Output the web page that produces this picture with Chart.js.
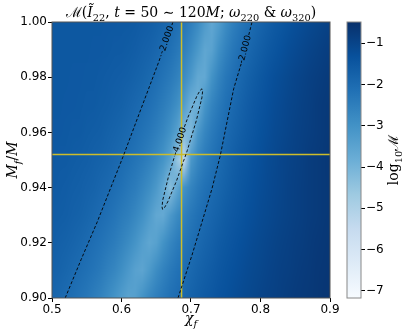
<!DOCTYPE html>
<html>
<head>
<meta charset="utf-8">
<script src="https://cdn.jsdelivr.net/npm/chart.js@4.4.1/dist/chart.umd.min.js"></script>
<style>
    html, body { margin: 0; padding: 0; background: #fff; }
    #wrap { position: relative; width: 403px; height: 334px; }
    #mainChart { position: absolute; left: 0; top: 0; }
    #barChart { position: absolute; left: 330px; top: 0; }
</style>
</head>
<body>
<div id="wrap">
    <canvas id="mainChart" width="403" height="334"></canvas>
    <canvas id="barChart" width="73" height="334"></canvas>
</div>
<script>
// ================= DATA =================
const chiGrid = [0.50, 0.51, 0.52, 0.53, 0.54, 0.55, 0.56, 0.57, 0.58, 0.59, 0.60, 0.61, 0.62, 0.63,
    0.64, 0.65, 0.66, 0.67, 0.68, 0.69, 0.70, 0.71, 0.72, 0.73, 0.74, 0.75, 0.76, 0.77, 0.78, 0.79,
    0.80, 0.81, 0.82, 0.83, 0.84, 0.85, 0.86, 0.87, 0.88, 0.89, 0.90];
const massGrid = [0.90, 0.91, 0.92, 0.93, 0.94, 0.95, 0.96, 0.97, 0.98, 0.99, 1.00];

// log10 mismatch, one row per massGrid value (bottom to top), one column per chiGrid value
const logMismatch = [
    [-1.85, -1.92, -2.01, -2.1, -2.2, -2.32, -2.46, -2.62, -2.81, -3.04, -3.29, -3.49, -3.38, -3.02, -2.72, -2.49, -2.3, -2.14, -2.01, -1.89, -1.77, -1.66, -1.57, -1.48, -1.39, -1.32, -1.24, -1.17, -1.11, -1.06, -1.0, -0.95, -0.91, -0.87, -0.82, -0.78, -0.75, -0.71, -0.68, -0.65, -0.62],
    [-1.75, -1.8, -1.87, -1.95, -2.04, -2.14, -2.24, -2.37, -2.53, -2.7, -2.92, -3.18, -3.45, -3.54, -3.22, -2.86, -2.59, -2.37, -2.19, -2.05, -1.92, -1.8, -1.69, -1.58, -1.49, -1.4, -1.32, -1.25, -1.17, -1.11, -1.06, -1.0, -0.95, -0.9, -0.86, -0.82, -0.78, -0.74, -0.7, -0.67, -0.64],
    [-1.67, -1.71, -1.76, -1.83, -1.9, -1.98, -2.08, -2.19, -2.3, -2.44, -2.61, -2.81, -3.06, -3.35, -3.58, -3.43, -3.02, -2.69, -2.44, -2.25, -2.1, -1.96, -1.83, -1.71, -1.59, -1.5, -1.41, -1.33, -1.25, -1.17, -1.11, -1.05, -0.99, -0.94, -0.9, -0.85, -0.81, -0.77, -0.73, -0.69, -0.66],
    [-1.61, -1.64, -1.67, -1.72, -1.77, -1.84, -1.92, -2.01, -2.11, -2.24, -2.38, -2.52, -2.71, -2.95, -3.26, -3.62, -3.69, -3.21, -2.82, -2.53, -2.31, -2.14, -1.99, -1.85, -1.73, -1.6, -1.51, -1.42, -1.33, -1.25, -1.17, -1.11, -1.05, -0.99, -0.94, -0.89, -0.84, -0.8, -0.76, -0.72, -0.68],
    [-1.57, -1.59, -1.62, -1.66, -1.7, -1.75, -1.8, -1.88, -1.96, -2.06, -2.17, -2.3, -2.45, -2.64, -2.86, -3.17, -3.63, -4.3, -3.62, -3.0, -2.63, -2.37, -2.16, -2.0, -1.86, -1.73, -1.6, -1.5, -1.4, -1.31, -1.22, -1.15, -1.08, -1.01, -0.95, -0.9, -0.85, -0.8, -0.76, -0.72, -0.68],
    [-1.53, -1.55, -1.57, -1.6, -1.63, -1.67, -1.71, -1.76, -1.83, -1.91, -2.0, -2.1, -2.23, -2.37, -2.54, -2.76, -3.04, -3.46, -4.5, -5.4, -3.17, -2.7, -2.4, -2.18, -2.0, -1.84, -1.7, -1.57, -1.47, -1.36, -1.27, -1.18, -1.11, -1.03, -0.97, -0.91, -0.86, -0.8, -0.76, -0.71, -0.67],
    [-1.52, -1.52, -1.53, -1.55, -1.57, -1.6, -1.63, -1.67, -1.73, -1.79, -1.86, -1.95, -2.05, -2.18, -2.32, -2.49, -2.7, -2.99, -3.4, -4.14, -4.14, -3.15, -2.69, -2.39, -2.16, -1.98, -1.82, -1.68, -1.56, -1.45, -1.34, -1.25, -1.16, -1.09, -1.01, -0.95, -0.9, -0.84, -0.79, -0.74, -0.7],
    [-1.5, -1.5, -1.51, -1.52, -1.53, -1.55, -1.57, -1.6, -1.64, -1.69, -1.74, -1.81, -1.91, -2.0, -2.12, -2.27, -2.43, -2.65, -2.91, -3.3, -3.9, -3.9, -3.08, -2.65, -2.35, -2.13, -1.95, -1.79, -1.65, -1.52, -1.41, -1.3, -1.2, -1.13, -1.05, -0.99, -0.92, -0.86, -0.8, -0.75, -0.71],
    [-1.5, -1.5, -1.5, -1.51, -1.52, -1.53, -1.53, -1.55, -1.58, -1.61, -1.65, -1.7, -1.76, -1.84, -1.94, -2.06, -2.2, -2.36, -2.56, -2.83, -3.18, -3.64, -3.65, -3.02, -2.61, -2.32, -2.11, -1.93, -1.77, -1.63, -1.5, -1.39, -1.28, -1.19, -1.11, -1.03, -0.96, -0.9, -0.84, -0.79, -0.74],
    [-1.5, -1.5, -1.5, -1.5, -1.5, -1.5, -1.51, -1.52, -1.53, -1.55, -1.57, -1.6, -1.65, -1.71, -1.78, -1.88, -2.0, -2.14, -2.31, -2.52, -2.8, -3.16, -3.59, -3.46, -2.95, -2.58, -2.32, -2.12, -1.95, -1.8, -1.66, -1.54, -1.43, -1.32, -1.23, -1.15, -1.07, -1.0, -0.94, -0.88, -0.83],
    [-1.5, -1.5, -1.5, -1.5, -1.5, -1.5, -1.5, -1.5, -1.51, -1.52, -1.53, -1.54, -1.57, -1.61, -1.66, -1.73, -1.82, -1.94, -2.09, -2.27, -2.49, -2.8, -3.21, -3.6, -3.3, -2.87, -2.55, -2.31, -2.13, -1.97, -1.82, -1.69, -1.57, -1.47, -1.37, -1.28, -1.2, -1.12, -1.06, -0.99, -0.93]
];

// contour lines [chi, Mf/M]; each split where the inline label sits
const contourLevels = [-2, -2, -4];
const leftContourLow = [[0.519, 0.900], [0.542, 0.914], [0.565, 0.9275], [0.584, 0.9396], [0.603, 0.9517],
    [0.621, 0.9638], [0.639, 0.9758], [0.6535, 0.9855], [0.657, 0.988]];
const leftContourTop = [[0.6725, 0.9989], [0.674, 1.000]];
const rightContourLow = [[0.6813, 0.900], [0.7014, 0.9155], [0.7158, 0.9275], [0.7302, 0.9396], [0.7422, 0.9517],
    [0.7518, 0.9638], [0.7614, 0.9758], [0.7721, 0.9848]];
const rightContourTop = [[0.7831, 0.9953], [0.7878, 1.000]];
const innerContour = [[0.6905, 0.9620], [0.6955, 0.9654], [0.7085, 0.9732], [0.7130, 0.9752], [0.7158, 0.9758],
    [0.7167, 0.9749], [0.7157, 0.9726], [0.7078, 0.9644], [0.6946, 0.9534], [0.6794, 0.9426], [0.6665, 0.9348],
    [0.6620, 0.9328], [0.6591, 0.9321], [0.6583, 0.9330], [0.6593, 0.9354], [0.6672, 0.9436], [0.6765, 0.9515]];

// injected remnant values
const chiRemnant = 0.6864;
const massRemnant = 0.9520;

const xTickValues = [0.5, 0.6, 0.7, 0.8, 0.9];
const yTickValues = [0.90, 0.92, 0.94, 0.96, 0.98, 1.00];
const cbTickValues = [-1, -2, -3, -4, -5, -6, -7];
const cbMin = -7.17;
const cbMax = -0.49;

// ================= COLOURS =================
const bluesStops = ['#f7fbff', '#deebf7', '#c6dbef', '#9ecae1', '#6baed6', '#4292c6', '#2171b5', '#08519c', '#08306b'];

function hexToRgb(h) {
    return [parseInt(h.slice(1, 3), 16), parseInt(h.slice(3, 5), 16), parseInt(h.slice(5, 7), 16)];
}

function blues(v) {
    let t = (v - cbMin) / (cbMax - cbMin);
    t = Math.max(0, Math.min(1, t));
    const p = t * (bluesStops.length - 1);
    const i = Math.min(bluesStops.length - 2, Math.floor(p));
    const f = p - i;
    const a = hexToRgb(bluesStops[i]);
    const b = hexToRgb(bluesStops[i + 1]);
    return [0, 1, 2].map(k => Math.round(a[k] + (b[k] - a[k]) * f));
}

// ================= TEXT HELPERS =================
function drawRich(ctx, parts, x, y, size, rotation) {
    const fontFor = p => (p.it ? 'italic ' : '') + (p.sub ? size * 0.7 : size) + 'px "DejaVu Serif"';
    let total = 0;
    parts.forEach(p => {
        ctx.font = fontFor(p);
        p.w = ctx.measureText(p.t).width;
        total += p.w;
    });
    ctx.save();
    ctx.translate(x, y);
    ctx.rotate(rotation);
    ctx.fillStyle = '#000';
    ctx.textAlign = 'left';
    ctx.textBaseline = 'alphabetic';
    let cx = -total / 2;
    parts.forEach(p => {
        ctx.font = fontFor(p);
        ctx.fillText(p.t, cx, p.sub ? size * 0.25 : 0);
        cx += p.w;
    });
    ctx.restore();
}

const titleParts = [
    { t: 'ℳ' }, { t: '(' }, { t: 'Ĩ', it: 1 }, { t: '22', sub: 1 }, { t: ', ' }, { t: 't', it: 1 },
    { t: ' = 50 ∼ 120' }, { t: 'M', it: 1 }, { t: '; ' }, { t: 'ω', it: 1 }, { t: '220', sub: 1 },
    { t: ' & ' }, { t: 'ω', it: 1 }, { t: '320', sub: 1 }, { t: ')' }
];
const xLabelParts = [{ t: 'χ', it: 1 }, { t: 'f', it: 1, sub: 1 }];
const yLabelParts = [{ t: 'M', it: 1 }, { t: 'f', it: 1, sub: 1 }, { t: '/' }, { t: 'M', it: 1 }];
const cbLabelParts = [{ t: 'log' }, { t: '10', sub: 1 }, { t: 'ℳ' }];

// ================= PLUGINS =================
const heatmapPlugin = {
    id: 'heatmap',
    beforeDatasetsDraw(chart) {
        const { ctx, chartArea, scales: { x, y } } = chart;
        const cols = chiGrid.length;
        const rows = massGrid.length;
        const off = document.createElement('canvas');
        off.width = cols;
        off.height = rows;
        const octx = off.getContext('2d');
        const img = octx.createImageData(cols, rows);
        for (let r = 0; r < rows; r++) {
            const row = logMismatch[rows - 1 - r];
            for (let c = 0; c < cols; c++) {
                const rgb = blues(row[c]);
                const k = (r * cols + c) * 4;
                img.data[k] = rgb[0];
                img.data[k + 1] = rgb[1];
                img.data[k + 2] = rgb[2];
                img.data[k + 3] = 255;
            }
        }
        octx.putImageData(img, 0, 0);

        const hx = (chiGrid[1] - chiGrid[0]) / 2;
        const hy = (massGrid[1] - massGrid[0]) / 2;
        const x0 = x.getPixelForValue(chiGrid[0] - hx);
        const x1 = x.getPixelForValue(chiGrid[cols - 1] + hx);
        const y0 = y.getPixelForValue(massGrid[rows - 1] + hy);
        const y1 = y.getPixelForValue(massGrid[0] - hy);

        ctx.save();
        ctx.beginPath();
        ctx.rect(chartArea.left, chartArea.top, chartArea.right - chartArea.left, chartArea.bottom - chartArea.top);
        ctx.clip();
        ctx.imageSmoothingEnabled = true;
        ctx.imageSmoothingQuality = 'medium';
        ctx.drawImage(off, x0, y0, x1 - x0, y1 - y0);
        ctx.restore();
    }
};

function labelBetween(ctx, x, y, p1, p2, text) {
    const ax = x.getPixelForValue(p1[0]), ay = y.getPixelForValue(p1[1]);
    const bx = x.getPixelForValue(p2[0]), by = y.getPixelForValue(p2[1]);
    ctx.save();
    ctx.translate((ax + bx) / 2, (ay + by) / 2);
    ctx.rotate(Math.atan2(by - ay, bx - ax));
    ctx.font = '9px "DejaVu Sans"';
    ctx.fillStyle = '#000';
    ctx.textAlign = 'center';
    ctx.textBaseline = 'middle';
    ctx.fillText(text, 0, 0);
    ctx.restore();
}

const overlayPlugin = {
    id: 'overlay',
    afterDatasetsDraw(chart) {
        const { ctx, chartArea, scales: { x, y } } = chart;
        labelBetween(ctx, x, y, leftContourLow[leftContourLow.length - 1], leftContourTop[0], contourLevels[0].toFixed(3));
        labelBetween(ctx, x, y, rightContourLow[rightContourLow.length - 1], rightContourTop[0], contourLevels[1].toFixed(3));
        labelBetween(ctx, x, y, innerContour[innerContour.length - 1], innerContour[0], contourLevels[2].toFixed(3));

        ctx.save();
        ctx.strokeStyle = '#555';
        ctx.lineWidth = 1;
        ctx.strokeRect(chartArea.left, chartArea.top, chartArea.right - chartArea.left, chartArea.bottom - chartArea.top);
        ctx.restore();
    },
    afterDraw(chart) {
        const { ctx, chartArea } = chart;
        const cx = (chartArea.left + chartArea.right) / 2;
        drawRich(ctx, titleParts, cx, 17, 14, 0);
        drawRich(ctx, xLabelParts, cx, 323, 14, 0);
        drawRich(ctx, yLabelParts, 17, (chartArea.top + chartArea.bottom) / 2, 14, -Math.PI / 2);
    }
};

const colorbarPlugin = {
    id: 'colorbar',
    afterDatasetsDraw(chart) {
        const { ctx, chartArea, scales: { y } } = chart;
        const g = ctx.createLinearGradient(0, y.getPixelForValue(cbMin), 0, y.getPixelForValue(cbMax));
        bluesStops.forEach((c, i) => g.addColorStop(i / (bluesStops.length - 1), c));
        ctx.save();
        ctx.fillStyle = g;
        ctx.fillRect(chartArea.left, chartArea.top, chartArea.right - chartArea.left, chartArea.bottom - chartArea.top);
        ctx.strokeStyle = '#888';
        ctx.lineWidth = 1;
        ctx.strokeRect(chartArea.left, chartArea.top, chartArea.right - chartArea.left, chartArea.bottom - chartArea.top);
        ctx.restore();
    },
    afterDraw(chart) {
        const { chartArea } = chart;
        drawRich(chart.ctx, cbLabelParts, 68, (chartArea.top + chartArea.bottom) / 2, 14, -Math.PI / 2);
    }
};

// ================= MAIN CHART =================
function contourSet(points) {
    return {
        data: points.map(p => ({ x: p[0], y: p[1] })),
        showLine: true,
        borderColor: 'rgba(0,0,0,0.9)',
        borderWidth: 1,
        borderDash: [3, 2],
        pointRadius: 0,
        fill: false
    };
}

function crossSet(points) {
    return {
        data: points.map(p => ({ x: p[0], y: p[1] })),
        showLine: true,
        borderColor: '#cdbd2a',
        borderWidth: 1.5,
        pointRadius: 0,
        fill: false
    };
}

const tickFont = { family: 'DejaVu Sans', size: 12 };

new Chart(document.getElementById('mainChart'), {
    type: 'scatter',
    data: {
        datasets: [
            contourSet(leftContourLow),
            contourSet(leftContourTop),
            contourSet(rightContourLow),
            contourSet(rightContourTop),
            contourSet(innerContour),
            crossSet([[chiRemnant, yTickValues[0]], [chiRemnant, yTickValues[yTickValues.length - 1]]]),
            crossSet([[xTickValues[0], massRemnant], [xTickValues[xTickValues.length - 1], massRemnant]])
        ]
    },
    options: {
        responsive: false,
        animation: false,
        layout: { padding: { top: 22, right: 73, left: 0, bottom: 0 } },
        plugins: { legend: { display: false }, tooltip: { enabled: false } },
        scales: {
            x: {
                type: 'linear',
                min: 0.5,
                max: 0.9,
                afterFit: s => { s.height = 36; },
                afterBuildTicks: s => { s.ticks = xTickValues.map(v => ({ value: v })); },
                ticks: { autoSkip: false, maxRotation: 0, padding: 1, color: '#000', font: tickFont, callback: v => v.toFixed(1) },
                grid: { drawOnChartArea: false, tickLength: 4, color: '#000' },
                border: { display: false }
            },
            y: {
                type: 'linear',
                min: 0.9,
                max: 1.0,
                afterFit: s => { s.width = 52; },
                afterBuildTicks: s => { s.ticks = yTickValues.map(v => ({ value: v })); },
                ticks: { autoSkip: false, padding: 1, color: '#000', font: tickFont, callback: v => v.toFixed(2) },
                grid: { drawOnChartArea: false, tickLength: 4, color: '#000' },
                border: { display: false }
            }
        }
    },
    plugins: [heatmapPlugin, overlayPlugin]
});

// ================= COLORBAR =================
new Chart(document.getElementById('barChart'), {
    type: 'scatter',
    data: { datasets: [] },
    options: {
        responsive: false,
        animation: false,
        layout: { padding: { top: 22, bottom: 36, left: 17, right: 0 } },
        plugins: { legend: { display: false }, tooltip: { enabled: false } },
        scales: {
            x: { display: false, min: 0, max: 1 },
            y: {
                position: 'right',
                min: cbMin,
                max: cbMax,
                afterFit: s => { s.width = 42; },
                afterBuildTicks: s => { s.ticks = cbTickValues.map(v => ({ value: v })); },
                ticks: { autoSkip: false, padding: 1, color: '#000', font: tickFont, callback: v => '−' + Math.abs(v) },
                grid: { drawOnChartArea: false, tickLength: 4, color: '#000' },
                border: { display: false }
            }
        }
    },
    plugins: [colorbarPlugin]
});
</script>
</body>
</html>
